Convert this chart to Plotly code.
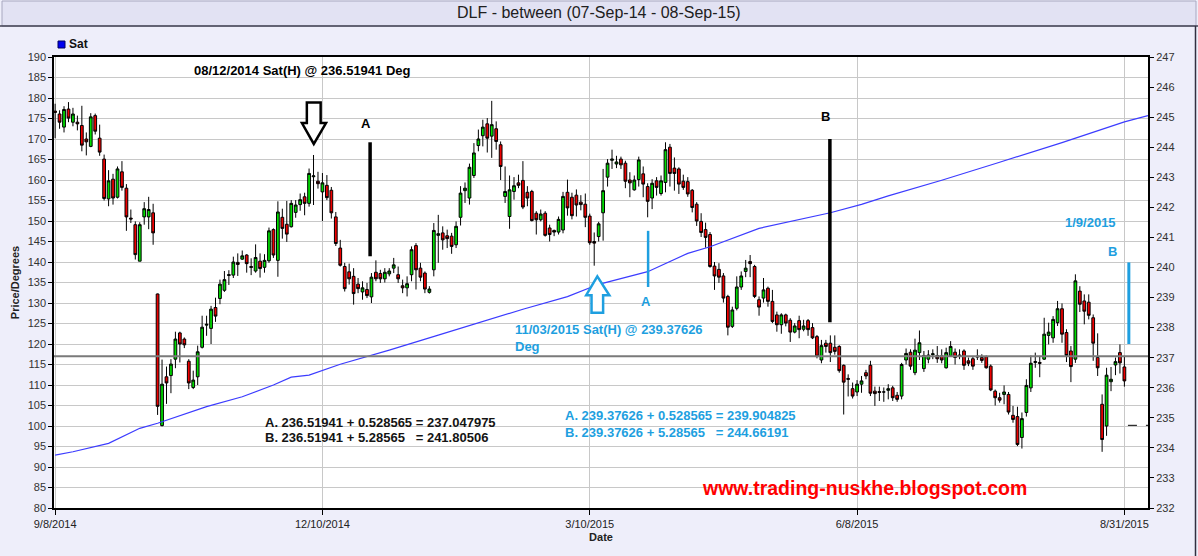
import plotly.graph_objects as go

# ---------------- data ----------------
tick_idx = [0, 60, 120, 180, 240]
tick_labels = ["9/8/2014", "12/10/2014", "3/10/2015", "6/8/2015", "8/31/2015"]

opens = [176.8,176.1,172.9,177.3,174.1,174.1,173.3,170.0,168.2,175.7,170.2,165.1,155.4,160.2,155.8,162.0,158.0,150.7,149.1,140.2,
         151.0,151.0,152.0,132.2,100.1,112.0,112.3,116.3,122.7,121.2,115.8,109.4,112.0,119.2,124.6,123.8,128.9,131.1,133.1,136.7,
         136.8,139.9,140.7,141.7,138.9,137.8,140.2,138.7,140.3,147.9,140.4,150.9,149.2,148.6,152.1,154.0,155.9,154.3,160.8,159.7,
         157.1,158.7,157.5,151.0,143.4,138.9,137.6,136.5,134.6,132.7,133.3,131.5,137.5,137.2,135.9,137.1,138.5,136.9,134.2,133.7,
         136.9,144.0,138.5,137.3,132.6,138.1,146.5,147.1,146.4,146.3,144.2,150.9,157.4,155.6,161.1,168.4,170.8,173.7,170.7,172.5,
         168.6,156.0,151.1,157.2,159.3,159.9,157.0,157.2,151.9,150.3,151.9,148.3,147.7,147.3,147.8,157.0,155.8,156.3,154.6,154.1,
         151.2,145.0,146.2,152.0,160.7,164.8,163.9,165.1,164.1,160.0,157.6,160.1,161.5,158.4,155.6,159.8,156.7,159.4,168.0,162.9,
         162.7,159.7,159.6,157.5,154.1,149.9,147.9,146.7,139.0,138.2,136.6,131.6,124.3,128.7,133.9,137.7,140.1,138.9,130.8,131.2,
         133.6,130.4,127.1,124.7,127.1,125.8,122.9,125.7,123.6,125.7,124.0,121.8,116.1,120.2,120.2,119.2,119.4,114.8,111.6,109.1,
         108.3,110.2,113.0,114.8,108.5,108.4,108.3,108.7,109.3,107.5,107.3,116.1,118.0,113.0,117.9,114.0,116.3,117.4,117.2,117.1,
         114.2,117.1,118.0,117.3,118.3,115.9,116.4,116.8,116.7,116.9,114.6,108.5,106.9,107.7,107.7,102.6,102.3,97.2,103.3,109.3,
         115.5,115.5,116.3,122.1,121.5,125.2,128.6,122.8,118.3,116.3,132.9,130.5,130.2,126.4,116.7,105.3,100.0,110.8,114.9,117.9,
         114.4]
highs = [178.6,177.0,178.0,179.0,177.6,175.7,178.1,171.6,176.3,176.2,173.5,166.2,162.4,161.5,163.3,164.6,159.0,152.8,149.9,149.7,
         154.6,155.9,154.2,132.3,116.2,114.5,116.3,123.0,123.0,121.6,116.3,113.5,119.6,126.9,126.9,129.3,131.3,135.7,137.8,138.0,
         141.3,142.1,142.8,141.9,140.9,144.3,142.1,141.9,148.4,148.2,154.8,153.0,154.9,155.1,155.1,156.7,156.9,162.8,166.1,162.0,
         161.7,161.2,158.3,152.2,145.4,139.8,139.6,138.5,136.1,135.3,134.9,137.3,140.4,138.1,138.5,138.5,141.0,138.9,135.7,136.5,
         143.8,144.6,139.8,137.7,134.1,149.5,151.5,148.7,147.9,147.1,149.9,158.5,159.4,164.0,169.0,172.3,174.7,175.1,179.3,174.3,
         169.4,163.3,161.1,160.7,161.3,164.6,158.5,157.6,152.4,152.8,152.4,149.1,147.9,151.1,157.1,160.1,156.9,157.7,156.3,156.7,
         151.8,147.2,149.8,162.7,165.1,167.4,165.9,165.7,164.7,161.9,161.1,165.7,163.3,159.2,160.2,160.7,161.1,169.2,168.8,165.5,
         163.1,161.3,160.7,157.8,154.6,151.9,149.6,147.3,140.0,139.7,137.3,132.0,129.1,136.5,137.7,140.5,141.7,139.3,131.6,136.1,
         134.0,133.2,127.9,127.5,127.4,126.3,125.1,126.9,125.9,126.1,125.1,122.2,121.0,121.0,122.1,122.1,119.7,115.0,112.6,110.6,
         111.2,112.2,113.7,115.9,109.6,109.6,109.4,110.2,109.8,108.3,115.4,118.9,118.7,121.3,123.3,118.3,118.5,118.7,119.5,118.7,
         119.1,120.7,118.9,118.7,118.7,116.7,117.1,118.7,117.5,117.2,115.0,108.9,108.1,109.9,108.3,104.9,104.7,103.3,111.4,117.2,
         117.9,117.1,126.4,125.2,126.8,130.5,129.9,123.6,119.5,137.0,134.1,132.1,132.1,127.2,122.6,107.7,114.2,114.4,116.7,119.9,
         117.1]
lows = [170.2,172.5,171.6,174.1,173.1,172.1,167.0,166.0,168.0,171.1,165.9,155.0,153.6,154.0,155.5,157.4,147.6,149.5,140.6,140.2,
        149.1,148.0,144.2,102.7,99.9,105.4,108.0,114.1,115.5,119.0,109.0,109.0,110.0,118.9,122.0,120.0,125.4,129.7,132.7,134.4,
        136.1,136.6,140.5,137.4,136.8,137.4,136.2,137.4,139.8,141.0,136.4,145.7,144.9,148.4,150.8,152.5,151.4,153.5,153.9,157.9,
        150.0,155.1,150.6,143.9,138.9,132.8,134.5,129.6,132.4,130.8,131.2,130.0,135.3,134.9,135.0,136.5,137.3,134.9,132.4,131.6,
        135.3,133.3,135.3,132.4,132.3,136.5,139.8,143.0,143.4,142.0,143.4,148.9,154.4,154.0,160.5,167.0,168.2,166.7,165.4,167.4,
        160.0,154.4,148.1,155.2,158.0,152.9,153.6,149.9,146.7,149.9,146.2,145.0,146.3,146.7,147.0,151.3,150.4,151.1,152.6,148.5,
        144.2,139.1,145.0,145.2,158.4,162.7,162.9,162.7,158.0,155.8,157.4,158.4,155.8,150.9,152.9,156.2,156.2,157.0,158.4,157.4,
        156.6,157.6,155.9,152.1,148.8,146.1,143.5,138.6,133.2,134.9,130.1,122.1,123.9,128.2,133.2,136.3,136.3,131.2,126.9,130.1,
        129.1,125.1,123.0,122.5,124.3,120.5,122.6,121.4,123.1,122.0,121.2,116.5,115.3,117.9,115.6,117.4,113.0,102.8,107.2,106.7,
        107.3,108.1,111.4,107.3,104.9,106.1,105.9,106.5,106.1,105.9,106.5,115.0,113.7,112.4,116.1,113.2,115.3,116.3,115.4,115.3,
        114.0,116.9,115.0,116.3,113.7,114.6,113.7,116.1,115.4,114.0,108.5,105.0,105.7,105.3,102.8,100.8,95.1,94.5,102.3,108.3,
        114.2,111.9,116.1,119.9,120.3,124.4,120.3,115.6,110.7,115.4,127.8,124.8,126.0,115.9,112.2,93.7,97.6,108.5,112.4,112.8,
        109.6]
closes = [176.5,174.1,177.2,175.1,176.1,173.7,168.5,169.3,175.4,171.9,166.8,155.5,159.8,155.6,162.7,158.2,151.0,150.5,141.8,149.1,
          153.0,152.8,147.1,104.8,110.2,110.5,115.1,121.2,120.0,119.8,110.5,111.2,118.1,124.1,124.8,128.5,126.8,134.6,135.7,136.9,
          140.0,139.4,141.5,139.6,138.7,141.1,138.4,140.4,147.6,141.7,152.2,148.2,146.8,154.3,153.9,155.2,154.3,161.6,161.0,159.1,
          159.3,155.7,152.0,144.5,139.2,133.5,135.9,132.3,133.5,133.7,131.8,136.3,135.9,135.9,137.5,137.8,139.3,135.9,133.7,134.7,
          143.0,138.1,136.3,133.4,133.4,147.7,146.9,145.4,145.7,143.8,148.7,156.8,158.0,163.1,166.6,170.0,172.9,170.2,173.5,169.4,
          163.3,157.2,157.6,158.6,158.7,153.4,155.6,150.1,150.3,151.7,146.5,146.7,147.3,150.4,156.0,153.2,151.3,153.9,154.0,150.9,
          144.7,144.6,149.3,157.4,164.1,165.1,164.4,163.7,159.7,159.3,160.0,164.9,159.0,154.8,159.2,158.2,159.8,167.4,161.6,161.6,
          159.0,158.2,156.6,153.3,150.0,147.2,146.0,138.9,136.6,136.3,131.2,124.1,128.3,133.9,136.6,138.5,139.6,131.6,129.0,133.2,
          130.4,125.5,124.7,127.1,125.1,122.9,124.4,123.5,124.4,123.5,121.5,117.0,119.6,119.4,117.9,118.2,113.5,110.7,111.4,107.3,
          110.2,111.0,112.2,108.0,107.9,108.2,108.3,109.1,106.9,106.5,115.0,117.7,114.6,118.5,120.3,117.2,117.3,117.6,116.4,116.1,
          117.9,119.4,116.7,117.1,114.8,115.3,114.6,117.0,116.0,114.2,108.8,106.9,106.3,108.3,103.4,101.6,95.5,101.8,109.9,115.3,
          115.7,115.3,122.4,122.9,126.0,128.6,122.4,117.2,114.5,135.4,129.7,128.0,127.0,120.2,114.2,96.7,112.4,111.4,115.7,115.4,
          111.0]
bar_idx = list(range(len(opens)))

# Saturn heliocentric longitude (right axis), read at sample bars
sat_idx = [0, 4, 12, 19, 23, 34, 42, 49, 53, 57, 64, 75, 86, 97, 105, 115, 122, 133, 142, 147, 158, 174, 181, 187, 199, 212, 226, 240, 245.3]
sat_deg = [233.76, 233.87, 234.15, 234.65, 234.82, 235.37, 235.70, 236.09, 236.35, 236.42, 236.78, 237.25, 237.75, 238.25, 238.61,
           239.03, 239.44, 239.86, 240.47, 240.69, 241.30, 241.82, 242.10, 242.38, 242.90, 243.50, 244.15, 244.84, 245.05]

level_price = 117.0          # gray horizontal level (= 237 deg on right axis)
dash_deg = 234.75

FONT = "Liberation Sans, Arial, sans-serif"
NARROW = "Liberation Sans Narrow, Arial Narrow, Liberation Sans, sans-serif"
BLUE_TXT = "#1E9FE0"
SAT_BLUE = "#3C3CFF"

# plot area in pixels (for paper-referenced decorations)
L, R, T, B = 54, 1148, 57, 508
PW, PH = R - L, B - T
def px(x):
    return (x - L) / PW
def py(y):
    return (B - y) / PH

fig = go.Figure()

fig.add_trace(go.Candlestick(
    x=bar_idx, open=opens, high=highs, low=lows, close=closes,
    increasing=dict(line=dict(color="black", width=1), fillcolor="#00DD00"),
    decreasing=dict(line=dict(color="black", width=1), fillcolor="#EE0000"),
    showlegend=False, hoverinfo="skip", xaxis="x", yaxis="y"))

fig.add_trace(go.Scatter(
    x=sat_idx, y=sat_deg, mode="lines", name="Sat", line=dict(color=SAT_BLUE, width=1.2),
    showlegend=False, yaxis="y2", hoverinfo="skip"))

shapes = []
# title bar
shapes.append(dict(type="rect", xref="paper", yref="paper",
                   x0=px(2), x1=px(1196), y0=py(26), y1=py(1),
                   fillcolor="#E2E2F3", line=dict(color="#A8A8C0", width=1), layer="below"))
shapes.append(dict(type="line", xref="paper", yref="paper",
                   x0=px(0), x1=px(1198), y0=py(26), y1=py(26),
                   line=dict(color="#404050", width=1.5)))
# right frame edge
shapes.append(dict(type="line", xref="paper", yref="paper",
                   x0=px(1195.5), x1=px(1195.5), y0=py(556), y1=py(26),
                   line=dict(color="#303040", width=1.5)))
# legend swatch
shapes.append(dict(type="rect", xref="paper", yref="paper",
                   x0=px(58), x1=px(65), y0=py(48), y1=py(41),
                   fillcolor="#0000F0", line=dict(color="#000060", width=1)))
# level line
shapes.append(dict(type="line", xref="paper", yref="y", x0=0, x1=1, y0=level_price, y1=level_price,
                   line=dict(color="#7A7A7A", width=2)))
# dashed projection
shapes.append(dict(type="line", xref="x", yref="y2", x0=240.8, x1=245.3, y0=dash_deg, y1=dash_deg,
                   line=dict(color="black", width=1, dash="dash")))
# black A / B lines
shapes.append(dict(type="line", xref="x", yref="y", x0=70.7, x1=70.7, y0=141.4, y1=169.2,
                   line=dict(color="black", width=3.5)))
shapes.append(dict(type="line", xref="x", yref="y", x0=173.9, x1=173.9, y0=125.3, y1=170.0,
                   line=dict(color="black", width=3.5)))
# blue A / B lines
shapes.append(dict(type="line", xref="x", yref="y", x0=133.1, x1=133.1, y0=133.9, y1=147.6,
                   line=dict(color=BLUE_TXT, width=2.5)))
shapes.append(dict(type="line", xref="x", yref="y", x0=241.0, x1=241.0, y0=120.0, y1=139.9,
                   line=dict(color=BLUE_TXT, width=3)))
# black down arrow (08/12/2014)
shapes.append(dict(type="path", xref="x", yref="y",
                   path="M 56.5 178.9 L 59.6 178.9 L 59.6 173.9 L 60.8 173.9 L 58.06 168.8 L 55.4 173.9 L 56.5 173.9 Z",
                   fillcolor="white", line=dict(color="black", width=2.5)))
# blue up arrow (11/03/2015)
shapes.append(dict(type="path", xref="x", yref="y",
                   path="M 120.4 127.6 L 123.0 127.6 L 123.0 131.9 L 124.4 131.9 L 121.7 136.5 L 119.2 131.9 L 120.4 131.9 Z",
                   fillcolor="white", line=dict(color=BLUE_TXT, width=2.5)))

nb = "\u00a0"
ann = []
ann.append(dict(xref="paper", yref="paper", x=px(599), y=py(13), text="DLF - between (07-Sep-14 - 08-Sep-15)",
                showarrow=False, font=dict(family=FONT, size=16, color="#202020"), xanchor="center", yanchor="middle"))
ann.append(dict(xref="paper", yref="paper", x=px(67), y=py(44.5), text="<b>Sat</b>", showarrow=False,
                xanchor="left", yanchor="middle", font=dict(family=FONT, size=12, color="#111111")))
ann.append(dict(x=55.6, y=186.7, text="<b>08/12/2014 Sat(H) @ 236.51941 Deg</b>", showarrow=False,
                font=dict(family=FONT, size=13, color="black"), xanchor="center", yanchor="middle"))
ann.append(dict(x=69.7, y=173.8, text="<b>A</b>", showarrow=False, font=dict(family=FONT, size=13, color="black")))
ann.append(dict(x=173.0, y=175.4, text="<b>B</b>", showarrow=False, font=dict(family=FONT, size=13, color="black")))
ann.append(dict(x=132.7, y=130.3, text="<b>A</b>", showarrow=False, font=dict(family=FONT, size=13, color=BLUE_TXT)))
ann.append(dict(x=237.4, y=142.6, text="<b>B</b>", showarrow=False, font=dict(family=FONT, size=13, color=BLUE_TXT)))
ann.append(dict(x=232.4, y=149.6, text="<b>1/9/2015</b>", showarrow=False, font=dict(family=FONT, size=13, color=BLUE_TXT)))
ann.append(dict(x=102.8, y=123.5, text="<b>11/03/2015 Sat(H) @ 239.37626</b>", showarrow=False, xanchor="left",
                font=dict(family=FONT, size=13, color=BLUE_TXT)))
ann.append(dict(x=102.8, y=119.3, text="<b>Deg</b>", showarrow=False, xanchor="left",
                font=dict(family=FONT, size=13, color=BLUE_TXT)))
ann.append(dict(x=46.7, y=100.8, text="<b>A. 236.51941 + 0.528565 = 237.047975</b>", showarrow=False, xanchor="left",
                font=dict(family=FONT, size=13, color="#141414")))
ann.append(dict(x=46.7, y=97.2, text="<b>B. 236.51941 + 5.28565" + nb*3 + "= 241.80506</b>", showarrow=False, xanchor="left",
                font=dict(family=FONT, size=13, color="#141414")))
ann.append(dict(x=114.0, y=102.5, text="<b>A. 239.37626 + 0.528565 = 239.904825</b>", showarrow=False, xanchor="left",
                font=dict(family=FONT, size=13, color=BLUE_TXT)))
ann.append(dict(x=114.0, y=98.4, text="<b>B. 239.37626 + 5.28565" + nb*3 + "= 244.66191</b>", showarrow=False, xanchor="left",
                font=dict(family=FONT, size=13, color=BLUE_TXT)))
ann.append(dict(x=181.6, y=85.0, text="<b>www.trading-nuskhe.blogspot.com</b>", showarrow=False,
                font=dict(family=FONT, size=19.5, color="#FF0000")))

fig.update_layout(
    width=1198, height=556,
    margin=dict(l=L, r=1198 - R, t=T, b=556 - B, autoexpand=False),
    paper_bgcolor="#EEEEFA", plot_bgcolor="white",
    font=dict(family=FONT, size=11, color="#222222"),
    showlegend=False, boxgap=0.12,
    shapes=shapes, annotations=ann,
    xaxis=dict(range=[-0.25, 245.3], tickmode="array", tickvals=tick_idx, ticktext=tick_labels,
               showgrid=True, gridcolor="#C8C8C8", gridwidth=1, zeroline=False,
               ticks="outside", ticklen=5, tickcolor="black", automargin=False,
               showline=True, linecolor="black", linewidth=1.5, mirror=True,
               tickfont=dict(family=NARROW, size=11, color="#222222"),
               title=dict(text="<b>Date</b>", font=dict(family=NARROW, size=11, color="#222222"), standoff=4),
               rangeslider=dict(visible=False), fixedrange=True),
    yaxis=dict(range=[80, 190], tick0=80, dtick=5, showgrid=True, gridcolor="#C8C8C8", gridwidth=1,
               zeroline=False, ticks="outside", ticklen=4, tickcolor="black", automargin=False,
               showline=True, linecolor="black", linewidth=1.5,
               tickfont=dict(family=FONT, size=11, color="#333333"),
               title=dict(text="<b>Price/Degrees</b>", font=dict(family=FONT, size=11, color="#222222"), standoff=6)),
    yaxis2=dict(range=[232, 247], tick0=232, dtick=1, overlaying="y", side="right", showgrid=False,
                zeroline=False, ticks="outside", ticklen=4, tickcolor="black", automargin=False,
                showline=True, linecolor="black", linewidth=2,
                tickfont=dict(family=FONT, size=11, color="#333333")),
)

fig.write_html("out.html", config={"displayModeBar": False},
               post_script="document.body.style.margin='0';document.body.style.background='#EEEEFA';")
